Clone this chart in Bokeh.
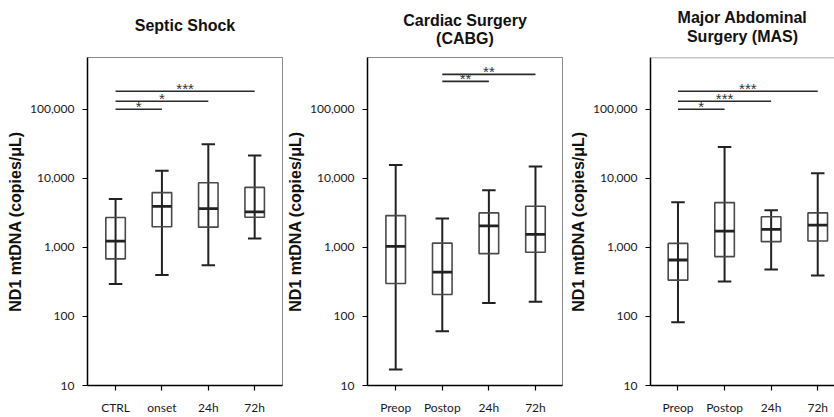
from bokeh.plotting import figure
from bokeh.layouts import row
from bokeh.models import Range1d, FixedTicker, NumeralTickFormatter, Title, Span
from bokeh.embed import file_html
from bokeh.resources import INLINE
from bokeh.core.properties import value

# ---- data (copies/uL) ----
septic_cats = ["CTRL", "onset", "24h", "72h"]
septic_lo = [294, 399, 551, 1346]
septic_q1 = [680, 1990, 1960, 2730]
septic_med = [1230, 3930, 3640, 3270]
septic_q3 = [2700, 6200, 8600, 7380]
septic_hi = [5000, 12800, 31000, 21300]
septic_sig_from = [0, 0, 0]
septic_sig_to = [1, 2, 3]
septic_sig_y = [100000, 130000, 182000]
septic_sig_txt = ["*", "*", "***"]

cabg_cats = ["Preop", "Postop", "24h", "72h"]
cabg_lo = [17, 61, 156, 163]
cabg_q1 = [300, 208, 811, 847]
cabg_med = [1030, 437, 2050, 1540]
cabg_q3 = [2880, 1150, 3150, 3930]
cabg_hi = [15600, 2610, 6680, 14800]
cabg_sig_from = [1, 1]
cabg_sig_to = [2, 3]
cabg_sig_y = [253000, 319000]
cabg_sig_txt = ["**", "**"]

mas_cats = ["Preop", "Postop", "24h", "72h"]
mas_lo = [82, 321, 477, 392]
mas_q1 = [335, 735, 1208, 1234]
mas_med = [656, 1720, 1815, 2095]
mas_q3 = [1140, 4440, 2770, 3150]
mas_hi = [4490, 28400, 3440, 11860]
mas_sig_from = [0, 0, 0]
mas_sig_to = [1, 2, 3]
mas_sig_y = [100000, 130000, 182000]
mas_sig_txt = ["*", "***", "***"]

y_ticks = [10, 100, 1000, 10000, 100000]
y_label = "ND1 mtDNA (copies/\u03bcL)"

BOX_W = 0.42
CAP_W = 0.29
DARK = "#222222"


def panel(cats, lo, q1, med, q3, hi, sf, st, sy, stxt, titles, width,
          left, right, xr, outline=True, standoffs=(0, 10)):
    p = figure(width=width, height=417, y_axis_type="log",
               x_range=Range1d(*xr), y_range=Range1d(10, 560000),
               output_backend="svg", toolbar_location=None,
               min_border_left=left, min_border_right=right,
               min_border_top=57, min_border_bottom=30)
    p.title.text = ""
    # title lines: the bottom line is added first (closest to the frame)
    for i, t in enumerate(reversed(titles)):
        p.add_layout(Title(text=t, align="center",
                           text_font="Liberation Sans",
                           text_font_size="16px", text_font_style="bold",
                           text_color="#111111",
                           standoff=standoffs[i]), "above")
    p.grid.visible = False
    p.background_fill_color = "white"
    p.border_fill_color = "white"
    if outline:
        p.outline_line_color = "#8a8a8a"
        p.outline_line_width = 1
    else:
        p.outline_line_color = None
        p.add_layout(Span(location=560000, dimension="width",
                          line_color="#8a8a8a", line_width=1.5))

    xs = list(range(len(cats)))
    # whiskers (through the box)
    p.segment(x0=xs, y0=lo, x1=xs, y1=hi, line_color=DARK, line_width=2)
    # caps
    p.segment(x0=[x - CAP_W / 2 for x in xs], y0=lo,
              x1=[x + CAP_W / 2 for x in xs], y1=lo,
              line_color=DARK, line_width=2)
    p.segment(x0=[x - CAP_W / 2 for x in xs], y0=hi,
              x1=[x + CAP_W / 2 for x in xs], y1=hi,
              line_color=DARK, line_width=2)
    # boxes
    p.vbar(x=xs, width=BOX_W, bottom=q1, top=q3, fill_color=None,
           line_color="#4a4a4a", line_width=1.6)
    # medians
    p.segment(x0=[x - BOX_W / 2 for x in xs], y0=med,
              x1=[x + BOX_W / 2 for x in xs], y1=med,
              line_color=DARK, line_width=2.8)
    # significance bars
    p.segment(x0=sf, y0=sy, x1=st, y1=sy, line_color="#2a2a2a", line_width=1.6)
    p.text(x=[(a + b) / 2 for a, b in zip(sf, st)], y=sy, text=stxt,
           text_align="center", text_baseline="alphabetic", y_offset=-3,
           text_font=value("Liberation Sans"), text_font_size="15px",
           text_color="#333333")

    # axes
    p.xaxis.ticker = FixedTicker(ticks=xs)
    p.xaxis.major_label_overrides = {i: c for i, c in enumerate(cats)}
    p.yaxis.ticker = FixedTicker(ticks=y_ticks, minor_ticks=[])
    p.yaxis.formatter = NumeralTickFormatter(format="0,0")
    for ax in (p.xaxis, p.yaxis):
        ax.axis_line_color = "black"
        ax.axis_line_width = 1.5
        ax.major_tick_line_color = "black"
        ax.major_tick_line_width = 1.2
        ax.major_tick_out = 5
        ax.major_tick_in = 0
        ax.minor_tick_line_color = None
        ax.major_label_text_font = "Lato"
        ax.major_label_text_font_size = "12px"
        ax.major_label_text_color = "#1a1a1a"
    p.xaxis.major_label_standoff = 9
    p.yaxis.major_label_standoff = 8
    p.yaxis.axis_label = y_label
    p.yaxis.axis_label_text_font = "Liberation Sans"
    p.yaxis.axis_label_text_font_size = "16px"
    p.yaxis.axis_label_text_font_style = "bold"
    p.yaxis.axis_label_text_color = "#111111"
    p.yaxis.axis_label_standoff = 3
    return p


p1 = panel(septic_cats, septic_lo, septic_q1, septic_med, septic_q3, septic_hi,
           septic_sig_from, septic_sig_to, septic_sig_y, septic_sig_txt,
           ["Septic Shock", " "], 283, 87, 1, (-0.605, 3.6), standoffs=(0, 10))
p2 = panel(cabg_cats, cabg_lo, cabg_q1, cabg_med, cabg_q3, cabg_hi,
           cabg_sig_from, cabg_sig_to, cabg_sig_y, cabg_sig_txt,
           ["Cardiac Surgery", "(CABG)"], 280, 84, 1, (-0.605, 3.58),
           standoffs=(22, -24))
p3 = panel(mas_cats, mas_lo, mas_q1, mas_med, mas_q3, mas_hi,
           mas_sig_from, mas_sig_to, mas_sig_y, mas_sig_txt,
           ["Major Abdominal", "Surgery (MAS)"], 271, 87, 0, (-0.59, 3.36),
           outline=False, standoffs=(26, -27))

layout = row(p1, p2, p3)
open("out.html", "w").write(file_html(layout, INLINE))
